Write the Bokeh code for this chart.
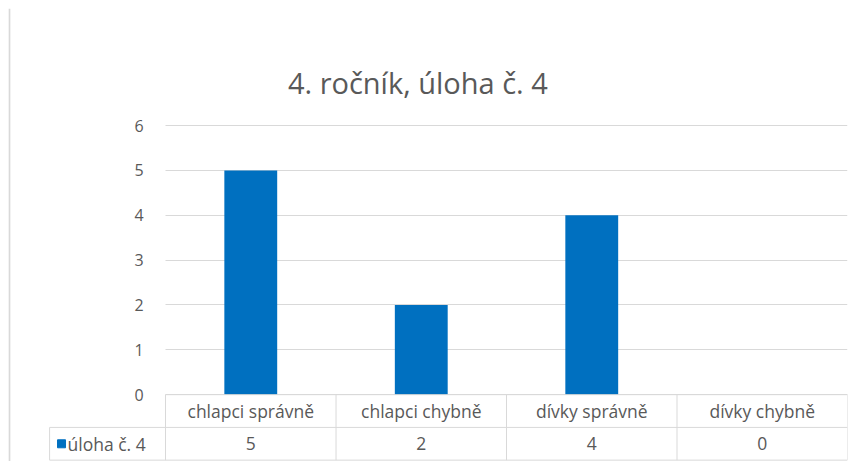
from bokeh.plotting import figure
from bokeh.models import Range1d, LinearAxis, FixedTicker, Grid, Label, ColumnDataSource
from bokeh.core.properties import value
from bokeh.embed import file_html
from bokeh.resources import INLINE

# ---- data ----
categories = ["chlapci správně", "chlapci chybně", "dívky správně", "dívky chybně"]
values = [5, 2, 4, 0]
series_name = "úloha č. 4"
chart_title = "4. ročník, úloha č. 4"
y_ticks = [0, 1, 2, 3, 4, 5, 6]

# ---- style / layout ----
BAR = "#0070C0"
TXT = "#595959"
LINE = "#d9d9d9"
FONT = "Open Sans"
n = len(categories)
ROW = 0.73          # table row height (y units)
LEFT_COL = -0.68    # left edge of series-name column (x units)
X_LO, Y_LO, Y_HI = -0.921, -1.49, 8.61

p = figure(width=853, height=461, x_range=Range1d(X_LO, n), y_range=Range1d(Y_LO, Y_HI),
           x_axis_location=None, y_axis_location=None, toolbar_location=None,
           output_backend="svg", outline_line_color=None,
           min_border_left=8, min_border_right=6, min_border_top=8, min_border_bottom=0)
p.background_fill_color = "white"
p.border_fill_color = "white"
# drop any default grids
p.center = [r for r in p.center if not isinstance(r, Grid)]

# y axis inside the frame at x=0
ax = LinearAxis(fixed_location=0, ticker=FixedTicker(ticks=y_ticks),
                axis_line_color=None, major_tick_line_color=None, minor_tick_line_color=None,
                major_tick_in=0, major_tick_out=0, major_label_standoff=22,
                major_label_text_font_size="16px", major_label_text_color=TXT,
                major_label_text_font=FONT)
p.add_layout(ax, "left")

grid = Grid(dimension=1, ticker=FixedTicker(ticks=y_ticks), grid_line_color=LINE, grid_line_width=1)
try:
    grid.cross_bounds = (0, n)
    p.add_layout(grid)
except Exception:
    p.segment(x0=[0] * len(y_ticks), x1=[n] * len(y_ticks), y0=y_ticks, y1=y_ticks,
              line_color=LINE, line_width=1)

# bars
src = ColumnDataSource(dict(x=[i + 0.5 for i in range(n)], top=values, cat=categories))
p.vbar(x="x", top="top", width=0.31, bottom=0, source=src, fill_color=BAR, line_color=None)

# data table lines
hx0 = [0, LEFT_COL, LEFT_COL]
hx1 = [n, n, n]
hy = [0, -ROW, -2 * ROW]
p.segment(x0=hx0, x1=hx1, y0=hy, y1=hy, line_color=LINE, line_width=1)
vx = list(range(n + 1)) + [LEFT_COL]
vy0 = [0] * (n + 1) + [-ROW]
vy1 = [-2 * ROW] * (n + 2)
p.segment(x0=vx, x1=vx, y0=vy0, y1=vy1, line_color=LINE, line_width=1)

# chart area left border
p.segment(x0=[X_LO + 0.005], x1=[X_LO + 0.005], y0=[Y_LO], y1=[Y_HI], line_color=LINE, line_width=2)

# table texts
xs = [i + 0.5 for i in range(n)]
p.text(x=xs, y=[-ROW / 2] * n, text=categories, text_align="center", text_baseline="middle",
       text_font=value(FONT), text_font_size="17.5px", text_color=TXT)
p.text(x=xs, y=[-1.5 * ROW] * n, text=[str(v) for v in values], text_align="center",
       text_baseline="middle", text_font=value(FONT), text_font_size="17.5px", text_color=TXT)
p.scatter(x=[LEFT_COL + 0.07], y=[-1.5 * ROW], marker="square", size=8,
          fill_color=BAR, line_color=BAR)
p.text(x=[LEFT_COL + 0.105], y=[-1.5 * ROW], text=[series_name], text_align="left",
       text_baseline="middle", text_font=value(FONT), text_font_size="17.5px", text_color=TXT)

# title
p.add_layout(Label(x=1.48, y=6.96, text=chart_title, text_align="center", text_baseline="middle",
                   text_font=FONT, text_font_size="29px", text_color=TXT))

open("out.html", "w").write(file_html(p, INLINE))
